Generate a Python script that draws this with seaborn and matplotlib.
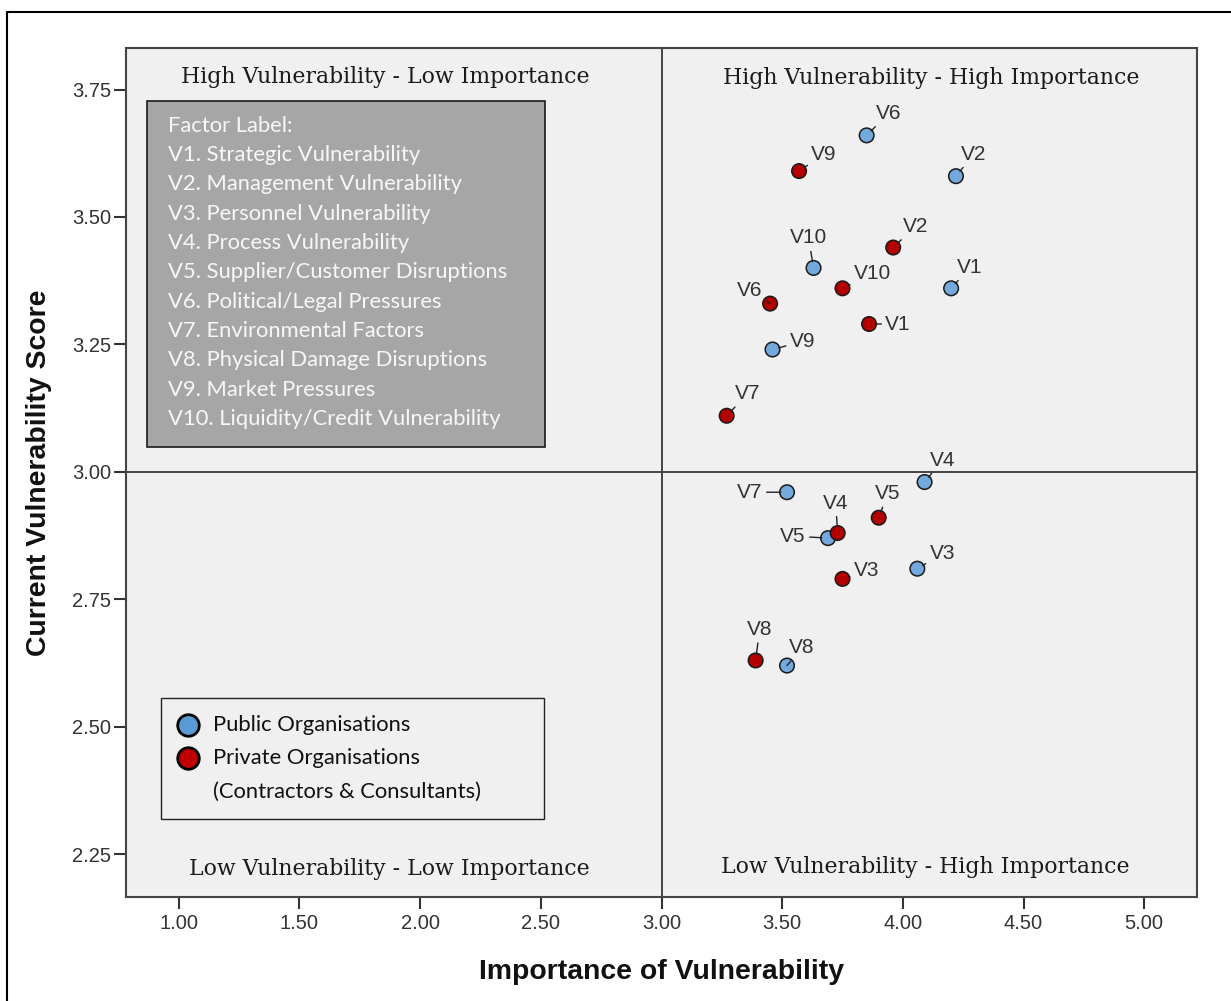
import numpy as np
import pandas as pd
import matplotlib
matplotlib.use('Agg')
import matplotlib.pyplot as plt
import seaborn as sns
from matplotlib.patches import Rectangle
from matplotlib.lines import Line2D

# Factor codes and mean scores
factors = ['V1', 'V2', 'V3', 'V4', 'V5', 'V6', 'V7', 'V8', 'V9', 'V10']
public_importance = [4.20, 4.22, 4.06, 4.09, 3.69, 3.85, 3.52, 3.52, 3.46, 3.63]
public_vulnerability = [3.36, 3.58, 2.81, 2.98, 2.87, 3.66, 2.96, 2.62, 3.24, 3.40]
private_importance = [3.86, 3.96, 3.75, 3.73, 3.90, 3.45, 3.27, 3.39, 3.57, 3.75]
private_vulnerability = [3.29, 3.44, 2.79, 2.88, 2.91, 3.33, 3.11, 2.63, 3.59, 3.36]

factor_names = ['V1. Strategic Vulnerability', 'V2. Management Vulnerability',
                'V3. Personnel Vulnerability', 'V4. Process Vulnerability',
                'V5. Supplier/Customer Disruptions', 'V6. Political/Legal Pressures',
                'V7. Environmental Factors', 'V8. Physical Damage Disruptions',
                'V9. Market Pressures', 'V10. Liquidity/Credit Vulnerability']
groups = ['Public', 'Private']
legend_labels = ['Public Organisations', 'Private Organisations',
                 '(Contractors & Consultants)']
quadrant_labels = ['High Vulnerability - Low Importance', 'High Vulnerability - High Importance',
                   'Low Vulnerability - Low Importance', 'Low Vulnerability - High Importance']
xticks = [1.0, 1.5, 2.0, 2.5, 3.0, 3.5, 4.0, 4.5, 5.0]
yticks = [2.25, 2.5, 2.75, 3.0, 3.25, 3.5, 3.75]

df = pd.DataFrame({
    'importance': public_importance + private_importance,
    'vulnerability': public_vulnerability + private_vulnerability,
    'group': [groups[0]] * len(factors) + [groups[1]] * len(factors),
    'factor': factors * 2,
})

# label offsets in pixels (right, up) from each point
public_offsets = {'V1': (19, 21), 'V2': (18, 22), 'V3': (25, 15), 'V4': (18, 22), 'V5': (-35, 2),
                  'V6': (22, 22), 'V7': (-37, 0), 'V8': (15, 18), 'V9': (30, 8), 'V10': (-5, 30)}
private_offsets = {'V1': (29, 0), 'V2': (22, 21), 'V3': (24, 8), 'V4': (-2, 30), 'V5': (9, 24),
                   'V6': (-20, 13), 'V7': (21, 22), 'V8': (4, 31), 'V9': (25, 17), 'V10': (30, 15)}

sns.set_style('ticks')
plt.rcParams['font.family'] = ['Liberation Sans', 'DejaVu Sans']

W, H = 1231, 1001
fig = plt.figure(figsize=(W / 100, H / 100), dpi=100)
fig.patch.set_facecolor('white')


def fx(px):
    return px / W


def fy(py):
    return 1 - py / H


ax = fig.add_axes([fx(125.7), fy(897), fx(1197.3) - fx(125.7), fy(47.7) - fy(897)])
ax.set_facecolor('#f0f0f0')

pt_colors = {'Public': '#73a9dc', 'Private': '#b20000'}
sns.scatterplot(data=df, x='importance', y='vulnerability', hue='group', palette=pt_colors,
                s=110, edgecolor='#1a1a1a', linewidth=1.1, legend=False, ax=ax, zorder=4)

ax.axvline(3.0, color='#444444', lw=1.4, zorder=2)
ax.axhline(3.0, color='#444444', lw=1.4, zorder=2)

ax.set_xlim(0.78, 5.22)
ax.set_ylim(2.166, 3.832)
ax.set_xticks(xticks)
ax.set_yticks(yticks)
ax.set_xticklabels([f'{t:.2f}' for t in xticks])
ax.set_yticklabels([f'{t:.2f}' for t in yticks])
ax.tick_params(axis='both', labelsize=14.5, length=8.5, width=1.5, color='#333333',
               labelcolor='#333333')
ax.tick_params(axis='x', pad=3.5)
ax.tick_params(axis='y', pad=2)
for sp in ax.spines.values():
    sp.set_color('#444444')
    sp.set_linewidth(1.5)

ax.set_xlabel('Importance of Vulnerability', fontsize=20.4, fontweight='bold', color='#111111')
ax.set_ylabel('Current Vulnerability Score', fontsize=20.4, fontweight='bold', color='#111111')
ax.xaxis.set_label_coords(0.5, (897 - 971.7) / 849.3)
ax.xaxis.label.set_va('center')
ax.yaxis.set_label_coords((39 - 125.7) / 1071.6, 0.5)
ax.yaxis.label.set_va('center')

# point labels with short leader lines
for grp, offs in zip(groups, [public_offsets, private_offsets]):
    sub = df[df['group'] == grp]
    for _, row in sub.iterrows():
        ax.annotate(row['factor'], xy=(row['importance'], row['vulnerability']),
                    xytext=offs[row['factor']], textcoords='offset pixels',
                    ha='center', va='center', fontsize=15, color='#333333', zorder=5,
                    arrowprops=dict(arrowstyle='-', color='#222222', lw=1.0,
                                    shrinkA=0.5, shrinkB=4.5))

# quadrant captions
quad_pos = [(385, 77), (931, 78), (389, 869), (925, 867)]
for txt, (qx, qy) in zip(quadrant_labels, quad_pos):
    fig.text(fx(qx), fy(qy), txt, ha='center', va='center', fontsize=15.8,
             family=['DejaVu Serif'], color='#1a1a1a')

# factor label box
fig.add_artist(Rectangle((fx(147.3), fy(446.7)), fx(545.3) - fx(147.3), fy(100.7) - fy(446.7),
                         transform=fig.transFigure, facecolor='#a6a6a6', edgecolor='#1a1a1a',
                         lw=1.2, zorder=6))
fig.text(fx(168.3), fy(125.7), 'Factor Label:', ha='left', va='center', fontsize=15.8,
         family=['Lato', 'DejaVu Sans'], color='#f7f7f7', zorder=7)
for i, name in enumerate(factor_names):
    fig.text(fx(168.3), fy(125.7 + (i + 1) * 29.33), name, ha='left', va='center',
             fontsize=15.8, family=['Lato', 'DejaVu Sans'], color='#f7f7f7', zorder=7)

# legend box
fig.add_artist(Rectangle((fx(161), fy(819)), fx(544) - fx(161), fy(698.3) - fy(819),
                         transform=fig.transFigure, facecolor='#f0f0f0', edgecolor='#222222',
                         lw=1.0, zorder=6))
leg_colors = ['#5b9bd5', '#c00000']
for i, col in enumerate(leg_colors):
    fig.add_artist(Line2D([fx(187.7)], [fy(725 + i * 33.3)], transform=fig.transFigure,
                          marker='o', markersize=15.5, markerfacecolor=col,
                          markeredgecolor='black', markeredgewidth=2.0, zorder=7))
for i, lab in enumerate(legend_labels):
    fig.text(fx(213), fy(725 + i * 33.3), lab, ha='left', va='center', fontsize=15.8,
             family=['Lato', 'DejaVu Sans'], color='#111111', zorder=7)

# outer frame (left and top edges visible)
fig.add_artist(Line2D([fx(7), fx(7)], [0, fy(12.3)], transform=fig.transFigure,
                      color='black', lw=1.5))
fig.add_artist(Line2D([fx(7), 1], [fy(12.3), fy(12.3)], transform=fig.transFigure,
                      color='black', lw=1.5))

fig.savefig('out.png', dpi=100)
